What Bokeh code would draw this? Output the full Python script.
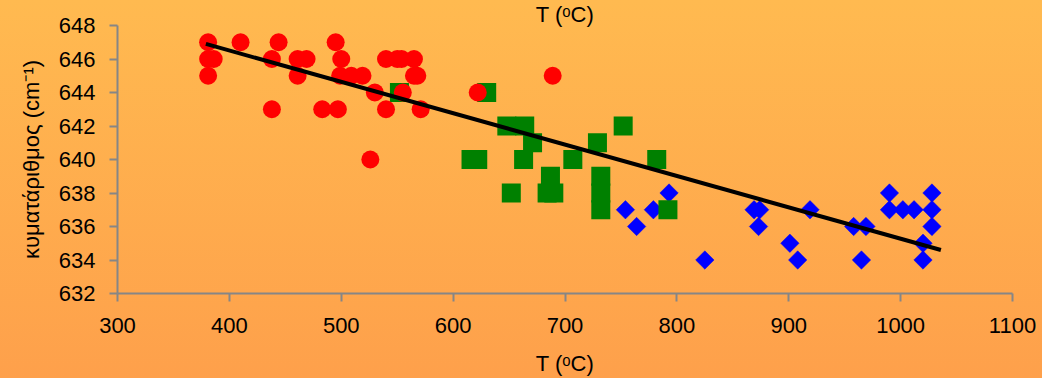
import numpy as np
from bokeh.plotting import figure
from bokeh.models import Range1d, FixedTicker
from bokeh.embed import file_html
from bokeh.resources import INLINE

# ---- data ----
red_t = [381, 410, 444, 495,
         381, 386, 438, 461, 469, 500, 540, 550, 554, 565,
         381, 461, 499, 509, 519, 565, 568, 689,
         530, 555, 622,
         438, 483, 497, 540, 571,
         526]
red_v = [647, 647, 647, 647,
         646, 646, 646, 646, 646, 646, 646, 646, 646, 646,
         645, 645, 645, 645, 645, 645, 645, 645,
         644, 644, 644,
         643, 643, 643, 643, 643,
         640]

green_t = [552, 630,
           648, 664, 752,
           671, 729,
           616, 622, 663, 707, 782,
           687, 732,
           652, 684, 690, 732,
           732, 792]
green_v = [644, 644,
           642, 642, 642,
           641, 641,
           640, 640, 640, 640, 640,
           639, 639,
           638, 638, 638, 638,
           637, 637]

blue_t = [793, 754, 779, 764, 825, 869, 874, 873, 901, 908, 919,
          958, 969, 965, 990, 990, 1002, 1012, 1028, 1028, 1028, 1020, 1020]
blue_v = [638, 637, 637, 636, 634, 637, 637, 636, 635, 634, 637,
          636, 636, 634, 638, 637, 637, 637, 638, 637, 636, 635, 634]

trend_t = [379, 1036]
trend_v = [646.9, 634.6]

x_ticks = [300, 400, 500, 600, 700, 800, 900, 1000, 1100]
y_ticks = [632, 634, 636, 638, 640, 642, 644, 646, 648]

title_text = "T (ᵒC)"
x_label = "T (ᵒC)"
y_label = "κυματάριθμος (cm⁻¹)"

FONT = "Liberation Sans"
AXC = "#868686"

p = figure(width=1042, height=378,
           x_range=Range1d(300, 1100), y_range=Range1d(632, 648),
           output_backend="svg", toolbar_location=None,
           title=title_text,
           min_border_left=117, min_border_right=30,
           min_border_top=0, min_border_bottom=84)

p.title.align = "center"
p.title.offset = -8
p.title.standoff = -2
p.title.text_font = FONT
p.title.text_font_size = "22px"
p.title.text_font_style = "normal"
p.title.text_color = "black"

p.background_fill_color = None
p.border_fill_color = None
p.outline_line_color = None
p.styles = {"background": "linear-gradient(to bottom, #FFBA50, #FEA04B)"}
p.xgrid.visible = False
p.ygrid.visible = False

for ax in (p.xaxis[0], p.yaxis[0]):
    ax.axis_line_color = AXC
    ax.axis_line_width = 2
    ax.major_tick_line_color = AXC
    ax.major_tick_line_width = 2
    ax.major_tick_in = 0
    ax.major_tick_out = 8
    ax.minor_tick_line_color = None
    ax.major_label_text_font = FONT
    ax.major_label_text_font_size = "22px"
    ax.major_label_text_color = "black"
    ax.axis_label_text_font = FONT
    ax.axis_label_text_font_size = "22px"
    ax.axis_label_text_font_style = "normal"
    ax.axis_label_text_color = "black"

p.xaxis[0].ticker = FixedTicker(ticks=x_ticks)
p.yaxis[0].ticker = FixedTicker(ticks=y_ticks)
p.xaxis[0].axis_label = x_label
p.yaxis[0].axis_label = y_label
p.xaxis[0].major_label_standoff = 16
p.yaxis[0].major_label_standoff = 14
p.xaxis[0].axis_label_standoff = 15
p.yaxis[0].axis_label_standoff = 12

p.scatter(blue_t, blue_v, marker="square", size=13, angle=np.pi / 4,
          fill_color="#0000FF", line_color="#0000FF", line_width=0.5)
p.scatter(green_t, green_v, marker="square", size=19,
          fill_color="#008000", line_color=None)
p.scatter(red_t, red_v, marker="circle", size=18,
          fill_color="#FF0000", line_color=None)
p.line(trend_t, trend_v, line_color="black", line_width=4)

open("out.html", "w").write(file_html(p, INLINE))
